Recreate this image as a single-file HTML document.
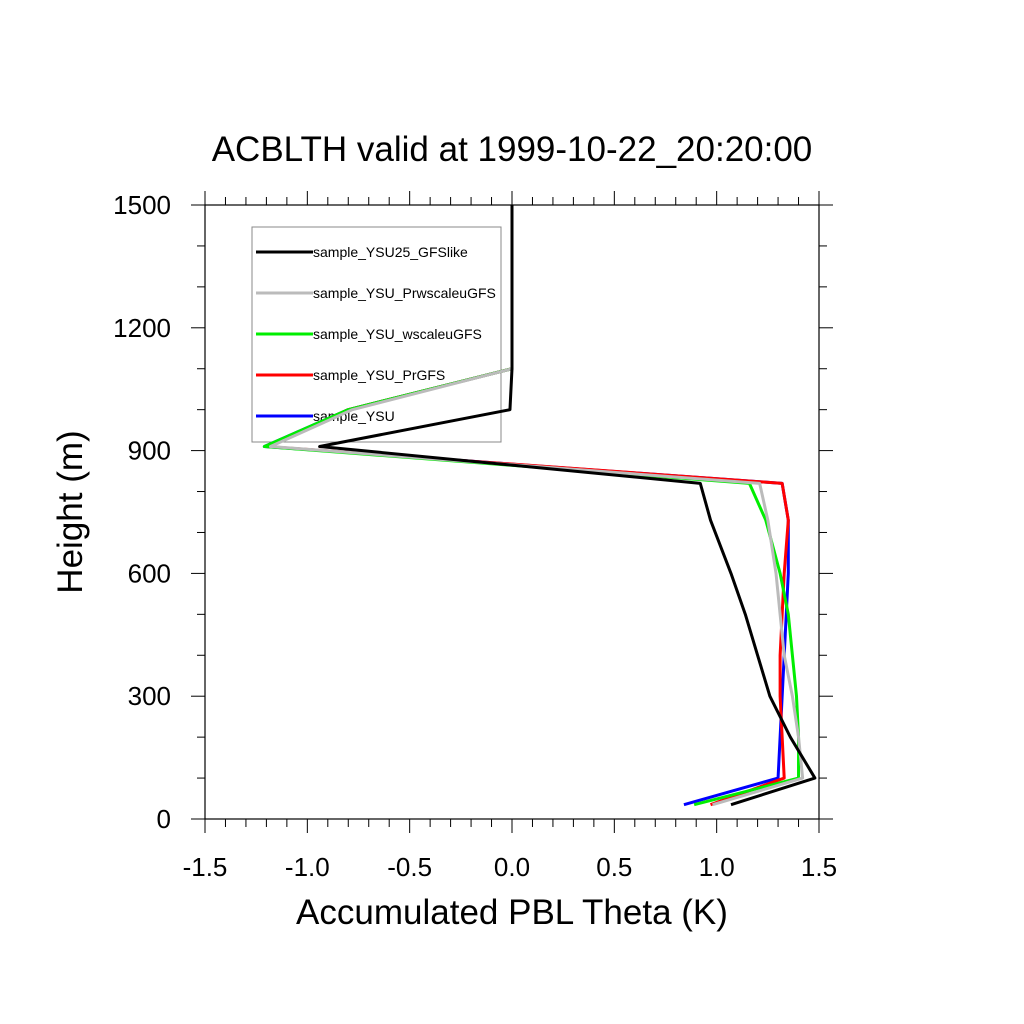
<!DOCTYPE html>
<html><head><meta charset="utf-8"><style>
html,body{margin:0;padding:0;background:#fff;}
svg{display:block;font-family:"Liberation Sans",sans-serif;}
</style></head><body>
<svg id="chart" width="1024" height="1024" viewBox="0 0 1024 1024">
<text x="512" y="161" text-anchor="middle" font-size="35">ACBLTH valid at 1999-10-22_20:20:00</text>
<g>
<rect x="252" y="227" width="249" height="215" fill="none" stroke="#888" stroke-width="1"/>
<g id="legend-entries"></g>
</g>
<rect x="205" y="205" width="614" height="614" fill="none" stroke="#000" stroke-width="1.2"/>
<g id="ticks"></g>
<g id="series"></g>
<text x="512" y="924" text-anchor="middle" font-size="35">Accumulated PBL Theta (K)</text>
<text transform="translate(82,512) rotate(-90)" text-anchor="middle" font-size="35">Height (m)</text>
</svg>
<script>
const heights = [35,100,200,300,400,500,600,730,820,910,1000,1100,1500];
const blackVals = [1.07,1.48,1.36,1.26,1.20,1.14,1.07,0.97,0.92,-0.94,-0.01,0,0];
const grayVals  = [0.98,1.42,1.40,1.37,1.33,1.31,1.29,1.25,1.21,-1.18,-0.78,0,0];
const greenVals = [0.89,1.40,1.40,1.39,1.37,1.35,1.31,1.24,1.16,-1.21,-0.80,0,0];
const redVals   = [0.97,1.33,1.32,1.31,1.31,1.32,1.33,1.35,1.32,-1.20,-0.80,0,0];
const blueVals  = [0.84,1.30,1.31,1.32,1.33,1.34,1.35,1.35,1.32,-1.21,-0.80,0,0];
const seriesNames = ["sample_YSU25_GFSlike","sample_YSU_PrwscaleuGFS","sample_YSU_wscaleuGFS","sample_YSU_PrGFS","sample_YSU"];
const xTickLabels = ["-1.5","-1.0","-0.5","0.0","0.5","1.0","1.5"];
const yTickLabels = ["0","300","600","900","1200","1500"];

const NS="http://www.w3.org/2000/svg";
const X0=205,X1=819,Y0=819,Y1=205;
const xs=v=>X0+(v+1.5)/3*(X1-X0);
const ys=v=>Y0-v/1500*(Y0-Y1);
function mk(tag,attrs,parent){const e=document.createElementNS(NS,tag);for(const k in attrs)e.setAttribute(k,attrs[k]);parent.appendChild(e);return e;}
const tg=document.getElementById('ticks');
for(let i=0;i<=30;i++){const v=-1.5+i*0.1;const x=xs(v);const major=i%5===0;const L=major?14:8;
 const t1=mk('line',{x1:x,x2:x,y1:Y0,y2:Y0+L,stroke:'#000','stroke-width':1},tg);
 
 
 const t2=mk('line',{x1:x,x2:x,y1:Y1,y2:Y1-L,stroke:'#000','stroke-width':1},tg);
 
 }
for(let i=0;i<=15;i++){const v=i*100;const y=ys(v);const major=i%3===0;const L=major?14:8;
 const t1=mk('line',{x1:X0,x2:X0-L,y1:y,y2:y,stroke:'#000','stroke-width':1},tg);
 
 
 const t2=mk('line',{x1:X1,x2:X1+L,y1:y,y2:y,stroke:'#000','stroke-width':1},tg);
 
 }
xTickLabels.forEach(s=>{const t=mk('text',{x:xs(parseFloat(s)),y:876,'text-anchor':'middle','font-size':26},tg);t.textContent=s;
 
 });
yTickLabels.forEach(s=>{const t=mk('text',{x:171,y:ys(parseFloat(s))+9,'text-anchor':'end','font-size':26},tg);t.textContent=s;
 
 });
const sg=document.getElementById('series');
const all=[[blueVals,'#0000ff','blue'],[redVals,'#ff0000','red'],[greenVals,'#00ee00','green'],[grayVals,'#bbbbbb','gray'],[blackVals,'#000000','black']];
all.forEach(([vals,col,n])=>{const pts=vals.map((v,i)=>xs(v)+','+ys(heights[i])).join(' ');
 const p=mk('polyline',{points:pts,fill:'none',stroke:col,'stroke-width':3,'stroke-linejoin':'round'},sg);
 
 });
const lg=document.getElementById('legend-entries');
const lcols=['#000000','#bbbbbb','#00ee00','#ff0000','#0000ff'];
seriesNames.forEach((s,i)=>{const y=252+i*41;
 const l=mk('line',{x1:256,x2:313,y1:y,y2:y,stroke:lcols[i],'stroke-width':3},lg);
 
 
 const t=mk('text',{x:313,y:y+5,'font-size':14},lg);t.textContent=s;
 
 });
</script>
</body></html>
